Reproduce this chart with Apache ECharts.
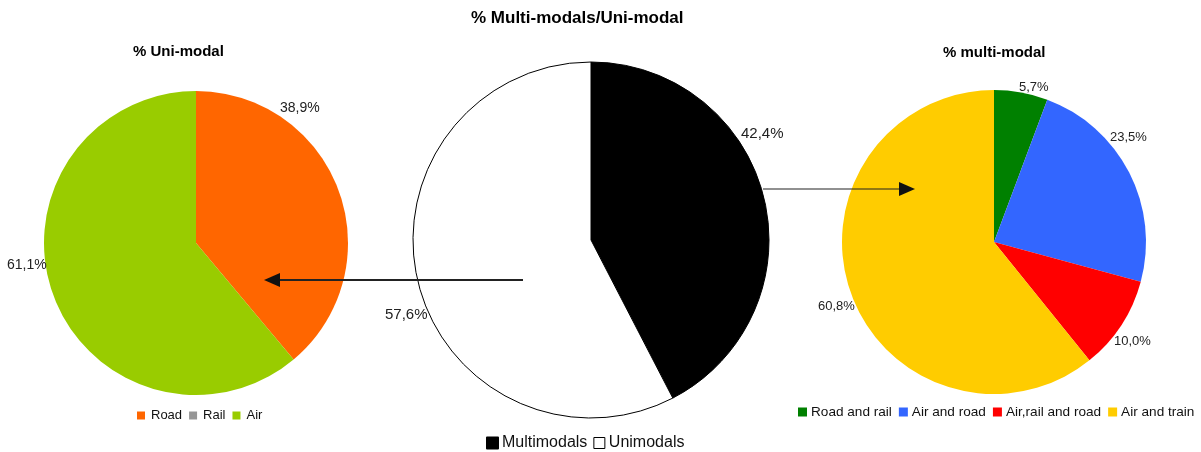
<!DOCTYPE html>
<html>
<head>
<meta charset="utf-8">
<script src="https://cdn.jsdelivr.net/npm/echarts@6/dist/echarts.min.js"></script>
<style>
html,body{margin:0;padding:0;background:#fff;}
#main{width:1201px;height:452px;}
</style>
</head>
<body>
<div id="main"></div>
<script>
// ---- data ----
const uniCategories = ['Road', 'Rail', 'Air'];
const uniValues = [38.9, 0, 61.1];
const uniColors = ['#FF6600', '#969696', '#99CC00'];

const totalCategories = ['Multimodals', 'Unimodals'];
const totalValues = [42.4, 57.6];
const totalColors = ['#000000', '#FFFFFF'];

const multiCategories = ['Road and rail', 'Air and road', 'Air,rail and road', 'Air and train'];
const multiValues = [5.7, 23.5, 10.0, 60.8];
const multiColors = ['#008000', '#3366FF', '#FF0000', '#FFCC00'];

const FONT = '"Liberation Sans", Arial, Helvetica, sans-serif';
const fmt = v => v.toFixed(1).replace('.', ',') + '%';

// label anchor positions (layout only)
const labelPos = [
  [[280, 108], null, [7, 265]],
  [[741, 134], [385, 315]],
  [[1019, 87], [1110, 137], [1114, 341], [818, 306]]
];

function makeData(cats, vals, colors, extra) {
  return cats.map((c, i) => {
    const d = { name: c, value: vals[i], itemStyle: { color: colors[i] } };
    if (extra) Object.assign(d.itemStyle, extra);
    if (vals[i] === 0) d.label = { show: false };
    return d;
  });
}

function labelLayout(p) {
  const pos = labelPos[p.seriesIndex][p.dataIndex];
  if (!pos) return {};
  return { x: pos[0], y: pos[1], align: 'left', verticalAlign: 'middle', hideOverlap: false };
}

const chart = echarts.init(document.getElementById('main'), null, { renderer: 'canvas' });

const baseLabel = (size) => ({
  show: true, position: 'outside', color: '#222', fontFamily: FONT, fontSize: size,
  formatter: p => fmt(p.value)
});

chart.setOption({
  backgroundColor: '#fff',
  animation: false,
  title: [
    { text: '% Multi-modals/Uni-modal', left: 471, top: 10, padding: 0,
      textStyle: { fontFamily: FONT, fontSize: 17, fontWeight: 'bold', color: '#000' } },
    { text: '% Uni-modal', left: 133, top: 44, padding: 0,
      textStyle: { fontFamily: FONT, fontSize: 15, fontWeight: 'bold', color: '#000' } },
    { text: '% multi-modal', left: 943, top: 45, padding: 0,
      textStyle: { fontFamily: FONT, fontSize: 15, fontWeight: 'bold', color: '#000' } }
  ],
  legend: [
    { data: uniCategories, left: 137, top: 409, padding: 0, icon: 'rect',
      itemWidth: 8, itemHeight: 8, itemGap: 7,
      textStyle: { fontFamily: FONT, fontSize: 13, color: '#111', padding: [0, 0, 0, 1] } },
    { data: [{ name: 'Multimodals' }, { name: 'Unimodals', itemStyle: { borderColor: '#000', borderWidth: 1 } }],
      left: 486, top: 435, padding: 0, icon: 'rect',
      itemWidth: 11, itemHeight: 11, itemGap: 6,
      textStyle: { fontFamily: FONT, fontSize: 16, color: '#111', padding: [0, 0, 0, -1] } },
    { data: multiCategories, left: 798, top: 405, padding: 0, icon: 'rect',
      itemWidth: 9, itemHeight: 9, itemGap: 7,
      textStyle: { fontFamily: FONT, fontSize: 13.6, color: '#111', padding: [0, 0, 0, -1] } }
  ],
  graphic: [
    { type: 'line', z: 100, shape: { x1: 523, y1: 280, x2: 278, y2: 280 },
      style: { stroke: '#222', lineWidth: 2 } },
    { type: 'polygon', z: 100, shape: { points: [[264, 280], [280, 273], [280, 287]] },
      style: { fill: '#111' } },
    { type: 'line', z: 100, shape: { x1: 763, y1: 189, x2: 901, y2: 189 },
      style: { stroke: '#222', lineWidth: 1.2 } },
    { type: 'polygon', z: 100, shape: { points: [[915, 189], [899, 182], [899, 196]] },
      style: { fill: '#111' } }
  ],
  series: [
    {
      type: 'pie', name: 'uni', center: [196, 243], radius: 152, startAngle: 90, clockwise: true,
      label: baseLabel(14), labelLine: { show: false, length: 5, length2: 0 },
      labelLayout: labelLayout, emphasis: { disabled: true }, avoidLabelOverlap: false,
      itemStyle: { borderWidth: 0 },
      data: makeData(uniCategories, uniValues, uniColors)
    },
    {
      type: 'pie', name: 'total', center: [591, 240], radius: 178, startAngle: 90, clockwise: true,
      label: baseLabel(15), labelLine: { show: false, length: 5, length2: 0 },
      labelLayout: labelLayout, emphasis: { disabled: true }, avoidLabelOverlap: false,
      data: makeData(totalCategories, totalValues, totalColors, { borderColor: '#000', borderWidth: 1 })
    },
    {
      type: 'pie', name: 'multi', center: [994, 242], radius: 152, startAngle: 90, clockwise: true,
      label: baseLabel(13), labelLine: { show: false, length: 5, length2: 0 },
      labelLayout: labelLayout, emphasis: { disabled: true }, avoidLabelOverlap: false,
      itemStyle: { borderWidth: 0 },
      data: makeData(multiCategories, multiValues, multiColors)
    }
  ]
});
</script>
</body>
</html>
